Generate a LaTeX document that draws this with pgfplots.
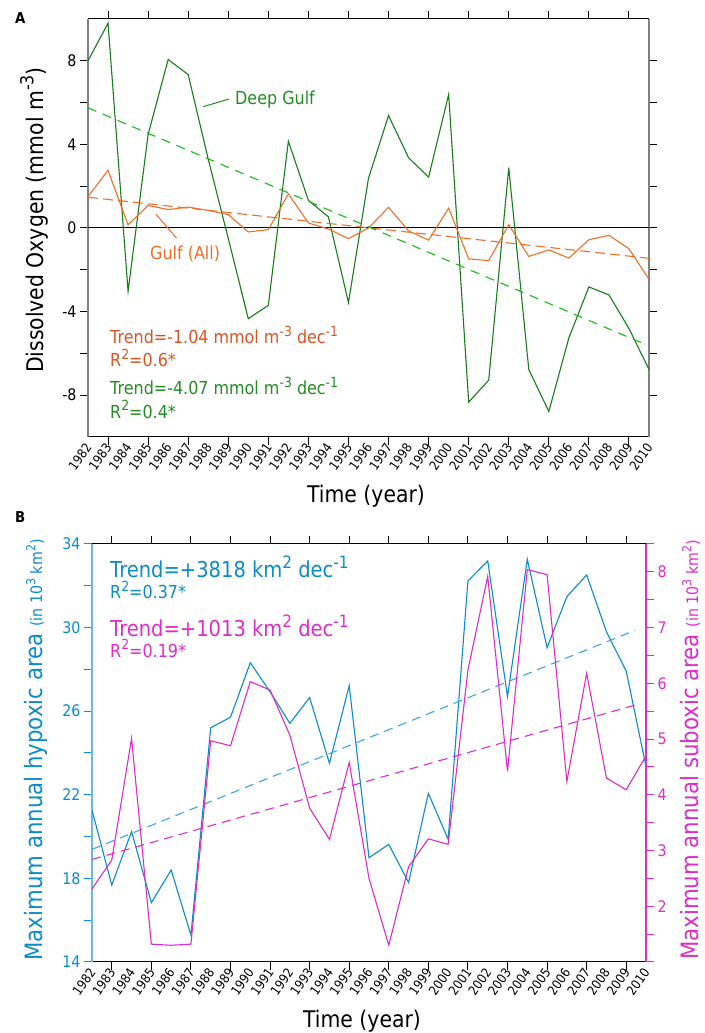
\documentclass[border=0pt]{standalone}
\usepackage{fontspec}
\setmainfont{DejaVu Sans}[FakeStretch=0.89]
\usepackage{pgfplots}
\pgfplotsset{compat=1.18}
\definecolor{dgreen}{RGB}{25,125,25}
\definecolor{lgreen}{RGB}{25,185,25}
\definecolor{orng}{RGB}{240,110,40}
\definecolor{orngtxt}{RGB}{215,85,35}
\definecolor{gtxt}{RGB}{35,140,35}
\definecolor{hblue}{RGB}{10,140,200}
\definecolor{hbluel}{RGB}{60,165,220}
\definecolor{axblue}{RGB}{110,185,225}
\definecolor{mag}{RGB}{220,45,200}
\newcommand\fs[1]{\fontsize{#1}{#1}\selectfont}
\newcommand\sups[1]{\raisebox{0.42em}{\scalebox{0.78}{#1}}}
\pgfplotsset{
  yrs/.style={
    xmin=1982, xmax=2010,
    xtick={1982,...,2010},
    minor xtick={1983,1985,...,2009},
    major x tick style={draw=none},
    tick align=outside,
    major tick length=8bp, minor tick length=8bp,
    every tick/.style={line width=1bp},
    xticklabel style={rotate=55, anchor=east, font=\fs{13}, inner sep=1bp, xshift=2bp},
    /pgf/number format/1000 sep={},
    /pgf/number format/assume math mode=true,
  },
}
\begin{document}
\begin{tikzpicture}[x=1bp,y=1bp]
\useasboundingbox (0,0) rectangle (705,1033);
% ---------------- Panel A ----------------
\begin{axis}[yrs,
  at={(88bp,596bp)}, anchor=south west, scale only axis,
  width=561bp, height=418bp,
  ymin=-10, ymax=10,
  separate axis lines,
  x axis line style={black, line width=1bp},
  y axis line style={gray, line width=1.4bp},
  xtick style={black}, ytick style={black},
  ytick={-8,-4,0,4,8}, yticklabels={-8,-4,0,4,8},
  minor ytick={-6,-2,2,6},
  xtick pos=both, ytick pos=both,
  xticklabel pos=lower, yticklabel pos=left,
  yticklabel style={font=\fs{16}},
]
\addplot[black, line width=1bp, forget plot] coordinates {(1982,0) (2010,0)};
\addplot[dgreen, line width=1.1bp] coordinates {
(1982,8.0) (1983,9.8) (1984,-3.03) (1985,4.47) (1986,8.06) (1987,7.34) (1988,3.3) (1989,-0.5)
(1990,-4.34) (1991,-3.7) (1992,4.15) (1993,1.32) (1994,0.53) (1995,-3.57) (1996,2.38) (1997,5.38)
(1998,3.36) (1999,2.43) (2000,6.39) (2001,-8.33) (2002,-7.28) (2003,2.88) (2004,-6.77) (2005,-8.78)
(2006,-5.26) (2007,-2.82) (2008,-3.2) (2009,-4.81) (2010,-6.77)};
\addplot[orng, line width=1.1bp] coordinates {
(1982,1.5) (1983,2.76) (1984,0.15) (1985,1.08) (1986,0.88) (1987,1.0) (1988,0.84) (1989,0.64)
(1990,-0.19) (1991,-0.08) (1992,1.63) (1993,0.24) (1994,-0.05) (1995,-0.51) (1996,0.0) (1997,0.99)
(1998,-0.14) (1999,-0.58) (2000,0.95) (2001,-1.48) (2002,-1.56) (2003,0.16) (2004,-1.36) (2005,-1.05)
(2006,-1.44) (2007,-0.56) (2008,-0.35) (2009,-0.99) (2010,-2.46)};
\addplot[orng, line width=1.1bp, dash pattern=on 10bp off 5bp] coordinates {(1982,1.47) (2010,-1.45)};
\addplot[lgreen, line width=1.1bp, dash pattern=on 9bp off 7bp] coordinates {(1982,5.75) (2009.6,-5.48)};
\end{axis}
% ---------------- Panel B ----------------
\begin{axis}[yrs,
  at={(92bp,71bp)}, anchor=south west, scale only axis,
  width=554bp, height=418bp,
  ymin=14, ymax=34,
  axis x line*=box, axis y line*=left,
  x axis line style={black, line width=1bp},
  y axis line style={axblue, line width=1.4bp},
  xtick style={black}, ytick style={hblue},
  ytick={14,18,...,34}, minor ytick={16,20,...,32},
  yticklabel style={font=\fs{16}, text=hblue},
]
\addplot[hblue, line width=1.1bp] coordinates {
(1982,21.27) (1983,17.68) (1984,20.24) (1985,16.84) (1986,18.4) (1987,15.29) (1988,25.21) (1989,25.71)
(1990,28.32) (1991,26.93) (1992,25.42) (1993,26.65) (1994,23.51) (1995,27.22) (1996,18.99) (1997,19.63)
(1998,17.8) (1999,22.07) (2000,19.87) (2001,32.23) (2002,33.19) (2003,26.7) (2004,33.27) (2005,29.04)
(2006,31.48) (2007,32.52) (2008,29.8) (2009,27.92) (2010,23.35)};
\addplot[hbluel, line width=1.1bp, dash pattern=on 9bp off 6bp] coordinates {(1982,19.39) (2009.45,29.87)};
\end{axis}
\begin{axis}[
  at={(92bp,71bp)}, anchor=south west, scale only axis,
  width=554bp, height=418bp,
  xmin=1982, xmax=2010, ymin=1, ymax=8.5,
  axis x line=none, axis y line*=right,
  xtick=\empty,
  tick align=outside,
  major tick length=8bp, minor tick length=8bp,
  every tick/.style={line width=1bp},
  y axis line style={mag, line width=1.4bp},
  ytick style={mag},
  ytick={2,...,8}, minor ytick={1,1.5,2.5,3.5,4.5,5.5,6.5,7.5,8.5},
  yticklabel style={font=\fs{16}, text=mag},
  /pgf/number format/assume math mode=true,
]
\addplot[mag, line width=1.1bp] coordinates {
(1982,2.31) (1983,2.83) (1984,5.01) (1985,1.32) (1986,1.30) (1987,1.32) (1988,4.97) (1989,4.88)
(1990,6.03) (1991,5.88) (1992,5.07) (1993,3.76) (1994,3.2) (1995,4.58) (1996,2.5) (1997,1.30)
(1998,2.71) (1999,3.21) (2000,3.11) (2001,6.24) (2002,7.92) (2003,4.42) (2004,8.04) (2005,7.95)
(2006,4.24) (2007,6.18) (2008,4.3) (2009,4.09) (2010,4.7)};
\addplot[mag, line width=1.1bp, dash pattern=on 9bp off 6bp] coordinates {(1982,2.84) (2009.45,5.61)};
\end{axis}
% ---------------- Texts ----------------
\begin{scope}[every node/.style={inner sep=0pt}]
\node[anchor=base west, font=\fs{15}\bfseries] at (15,1009) {A};
\node[anchor=base west, font=\fs{15}\bfseries] at (15,510) {B};
\node[anchor=base, rotate=90, font=\fs{23}] at (43,813) {Dissolved Oxygen (mmol m\sups{-3})};
\node[anchor=base, font=\fs{23}] at (366,530) {Time (year)};
\node[anchor=base, font=\fs{23}] at (362,5) {Time (year)};
\node[anchor=base, rotate=90, font=\fs{24}, text=hblue] at (42,283) {Maximum annual hypoxic area {\fs{16}(in 10\sups{3} km\sups{2})}};
\node[anchor=base, rotate=90, font=\fs{24}, text=mag] at (698,283) {Maximum annual suboxic area {\fs{16}(in 10\sups{3} km\sups{2})}};
% panel A annotations
\node[anchor=base west, font=\fs{18}, text=gtxt] at (235,928) {Deep Gulf};
\draw[gtxt, line width=1bp] (203,926.3) -- (229.3,934);
\node[anchor=base west, font=\fs{18}, text=orng] at (150,773) {Gulf (All)};
\draw[orng, line width=1bp] (156,818.7) -- (176.7,794.7);
\node[anchor=base west, font=\fs{18}, text=orngtxt] at (110,689) {Trend=-1.04 mmol m\sups{-3} dec\sups{-1}};
\node[anchor=base west, font=\fs{18}, text=orngtxt] at (110,666.3) {R\sups{2}=0.6*};
\node[anchor=base west, font=\fs{18}, text=gtxt] at (110,638) {Trend=-4.07 mmol m\sups{-3} dec\sups{-1}};
\node[anchor=base west, font=\fs{18}, text=gtxt] at (110,614.7) {R\sups{2}=0.4*};
% panel B annotations
\node[anchor=base west, font=\fs{22}, text=hblue] at (110,455.3) {Trend=+3818 km\sups{2} dec\sups{-1}};
\node[anchor=base west, font=\fs{18}, text=hblue] at (110,434) {R\sups{2}=0.37*};
\node[anchor=base west, font=\fs{22}, text=mag] at (110,396.3) {Trend=+1013 km\sups{2} dec\sups{-1}};
\node[anchor=base west, font=\fs{18}, text=mag] at (110,375.7) {R\sups{2}=0.19*};
\end{scope}
\end{tikzpicture}
\end{document}
